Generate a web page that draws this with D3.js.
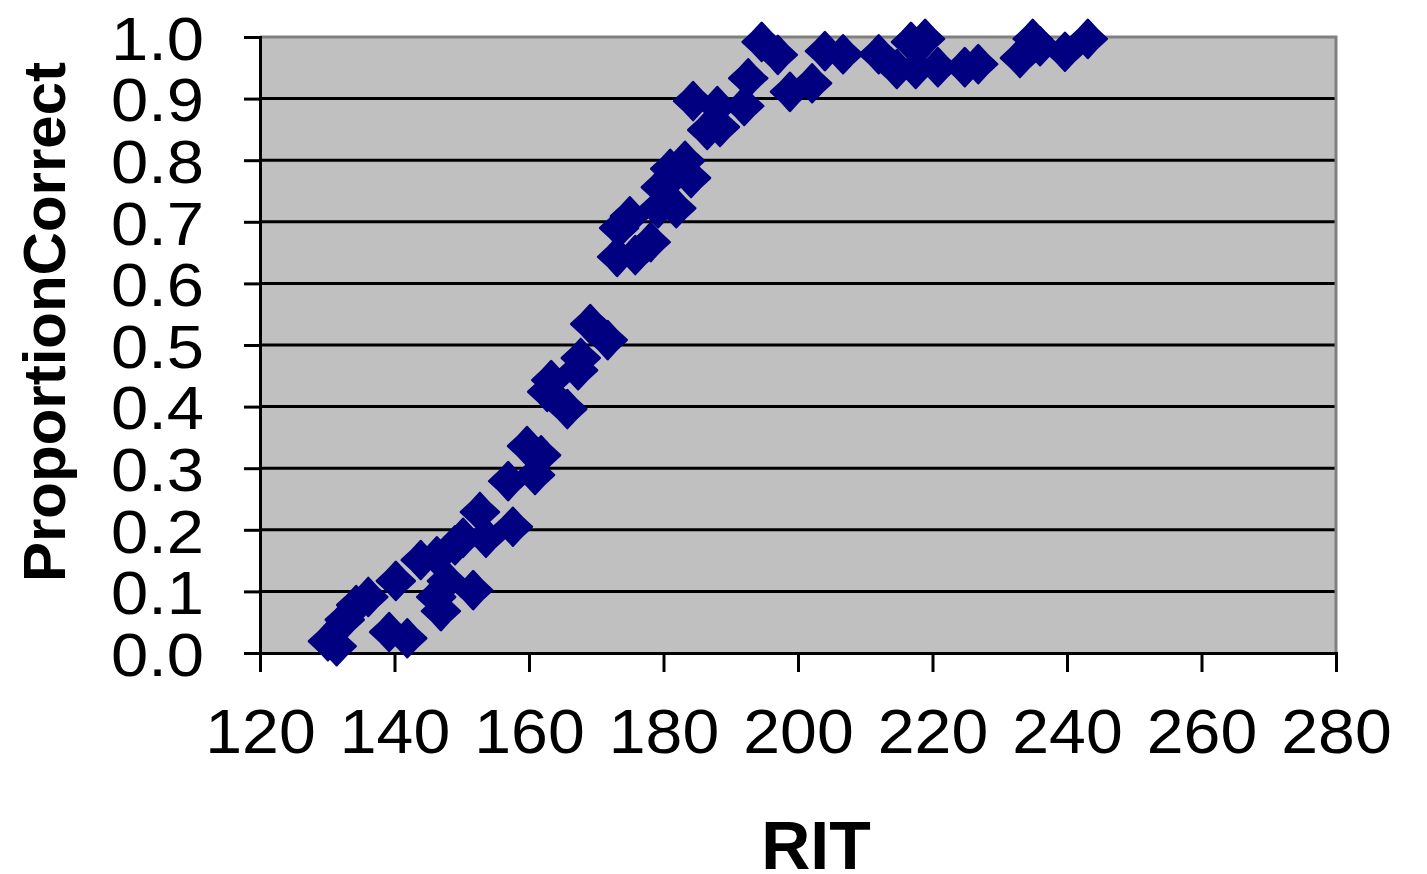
<!DOCTYPE html>
<html>
<head>
<meta charset="utf-8">
<script src="https://cdn.jsdelivr.net/npm/d3@7"></script>
<style>
  html, body { margin: 0; padding: 0; background: #ffffff; }
  svg { display: block; }
  text { font-family: "Liberation Sans", Arial, sans-serif; fill: #000; }
</style>
</head>
<body>
<svg id="chart" width="1427" height="874"></svg>
<script>
// RIT score of each item and the proportion of students answering it correctly
const ritScores = [
  130.1, 131.4, 132.6, 134.3, 136.1, 139.2, 141.9, 140.2, 143.9, 146.3,
  146.2, 146.9, 147.8, 151.7, 149.0, 150.2, 152.7, 153.6, 157.6, 156.9,
  160.9, 159.7, 161.8, 163.3, 162.7, 165.7, 167.3, 167.7, 169.1, 171.7,
  173.1, 175.8, 173.4, 175.0, 178.1, 179.2, 181.9, 179.6, 181.0, 183.2,
  184.1, 184.4, 186.5, 188.4, 188.0, 192.0, 192.6, 194.6, 197.0, 198.8,
  202.1, 204.0, 206.7, 212.0, 214.7, 216.8, 217.5, 218.9, 220.8, 224.8,
  226.8, 233.0, 234.9, 236.0, 239.7, 243.1
];
const proportionCorrect = [
  0.019, 0.011, 0.054, 0.078, 0.091, 0.034, 0.024, 0.117, 0.151, 0.157,
  0.091, 0.068, 0.117, 0.102, 0.175, 0.187, 0.229, 0.187, 0.205, 0.279,
  0.289, 0.336, 0.321, 0.443, 0.424, 0.396, 0.459, 0.479, 0.534, 0.508,
  0.643, 0.646, 0.690, 0.709, 0.667, 0.722, 0.722, 0.756, 0.786, 0.799,
  0.771, 0.896, 0.849, 0.854, 0.888, 0.888, 0.933, 0.992, 0.971, 0.911,
  0.925, 0.977, 0.972, 0.972, 0.948, 0.992, 0.948, 0.997, 0.951, 0.951,
  0.956, 0.966, 0.997, 0.985, 0.976, 0.997
];
const xTicks = [120, 140, 160, 180, 200, 220, 240, 260, 280];
const yTicks = [0.0, 0.1, 0.2, 0.3, 0.4, 0.5, 0.6, 0.7, 0.8, 0.9, 1.0];

const points = ritScores.map((r, i) => ({ rit: r, p: proportionCorrect[i] }));

const svg = d3.select("#chart");
const plot = { left: 260, right: 1336, top: 37, bottom: 653 };

const x = d3.scaleLinear().domain([120, 280]).range([plot.left, plot.right]);
const y = d3.scaleLinear().domain([0, 1]).range([plot.bottom, plot.top]);

// plot area background
svg.append("rect")
  .attr("x", plot.left).attr("y", plot.top)
  .attr("width", plot.right - plot.left).attr("height", plot.bottom - plot.top)
  .attr("fill", "#c0c0c0");

// horizontal gridlines
svg.append("g").selectAll("line")
  .data(yTicks.filter(t => t > 0 && t < 1))
  .join("line")
  .attr("x1", plot.left).attr("x2", plot.right)
  .attr("y1", d => y(d)).attr("y2", d => y(d))
  .attr("stroke", "#000").attr("stroke-width", 3);

// gray frame on top and right
svg.append("path")
  .attr("d", `M${plot.left},${plot.top}H${plot.right}V${plot.bottom}`)
  .attr("fill", "none").attr("stroke", "#808080").attr("stroke-width", 3);

// y axis
const yAxis = svg.append("g")
  .attr("transform", `translate(${plot.left},0)`)
  .call(d3.axisLeft(y).tickValues(yTicks).tickFormat(d3.format(".1f")).tickSize(16).tickPadding(40));
yAxis.select(".domain").attr("stroke", "#000").attr("stroke-width", 3);
yAxis.selectAll(".tick line").attr("stroke", "#000").attr("stroke-width", 3);
yAxis.selectAll(".tick text")
  .attr("font-size", 62)
  .attr("font-family", "'Liberation Sans', Arial, sans-serif")
  .attr("dy", "0.36em")
  .attr("x", 0)
  .attr("transform", "translate(-56,0) scale(1.08,1)");

// x axis
const xAxis = svg.append("g")
  .attr("transform", `translate(0,${plot.bottom})`)
  .call(d3.axisBottom(x).tickValues(xTicks).tickSize(19).tickPadding(0));
xAxis.select(".domain").attr("stroke", "#000").attr("stroke-width", 3);
xAxis.selectAll(".tick line").attr("stroke", "#000").attr("stroke-width", 3);
xAxis.selectAll(".tick text")
  .attr("font-size", 63)
  .attr("font-family", "'Liberation Sans', Arial, sans-serif")
  .attr("dy", 0)
  .attr("y", 0)
  .attr("transform", "translate(0,100) scale(1.05,1)");

// diamond markers with slightly pinched sides
const r = 19, c = r * 0.46;
const diamond = `M0,${-r}Q${c},${-c} ${r},0Q${c},${c} 0,${r}Q${-c},${c} ${-r},0Q${-c},${-c} 0,${-r}Z`;
svg.append("g").selectAll("path")
  .data(points)
  .join("path")
  .attr("d", diamond)
  .attr("transform", d => `translate(${x(d.rit)},${y(d.p)})`)
  .attr("fill", "#000080")
  .attr("stroke", "#000080")
  .attr("stroke-width", 2.5)
  .attr("stroke-linejoin", "round");

// axis titles
svg.append("text")
  .attr("x", 816).attr("y", 869)
  .attr("text-anchor", "middle")
  .attr("font-size", 68).attr("font-weight", "bold")
  .text("RIT");

svg.append("text")
  .attr("transform", "translate(65,322) rotate(-90)")
  .attr("text-anchor", "middle")
  .attr("font-size", 60).attr("font-weight", "bold")
  .text("ProportionCorrect");
</script>
</body>
</html>
